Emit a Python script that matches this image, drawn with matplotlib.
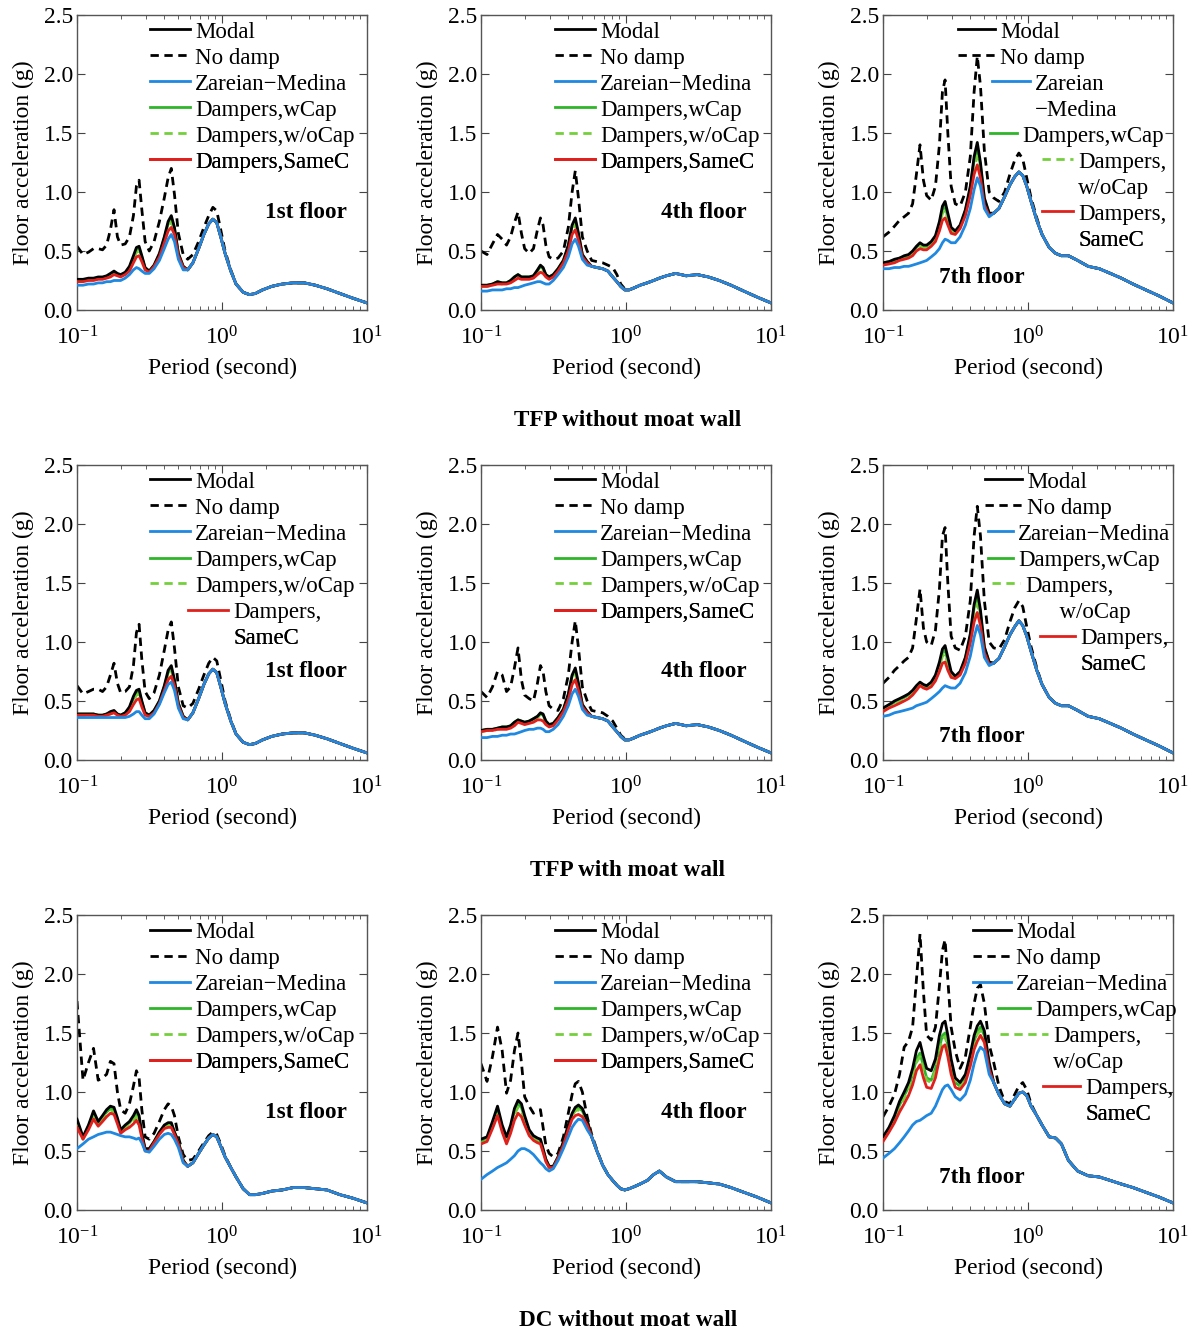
import matplotlib.pyplot as plt
from matplotlib.lines import Line2D

plt.rcParams['font.family'] = ['Liberation Serif', 'DejaVu Serif']
plt.rcParams['mathtext.fontset'] = 'stix'

# Period grids (second)
period_lo = [0.100, 0.110, 0.120, 0.130, 0.140, 0.150, 0.160, 0.170, 0.180, 0.190,
             0.200, 0.215, 0.230, 0.245, 0.257, 0.268, 0.280, 0.295, 0.315, 0.340,
             0.370, 0.400, 0.425, 0.447, 0.470, 0.500, 0.540]
period_mid = [0.580, 0.630, 0.690, 0.750, 0.810, 0.865, 0.920, 0.980, 1.050, 1.150]
period_tail = [1.25, 1.40, 1.55, 1.70, 1.90, 2.20, 2.60, 3.10, 3.70, 4.40, 5.30, 6.50, 8.00, 10.0]

# ---- TFP without moat wall, 1st floor
tfp_f1_modal = [0.26, 0.26, 0.27, 0.27, 0.28, 0.28, 0.29, 0.31, 0.33, 0.31, 0.30, 0.32, 0.37, 0.46, 0.53, 0.54, 0.46, 0.36, 0.33, 0.38, 0.48, 0.62, 0.75, 0.80, 0.70, 0.48, 0.37]
tfp_f1_nodamp = [0.54, 0.47, 0.49, 0.52, 0.52, 0.51, 0.55, 0.68, 0.85, 0.62, 0.55, 0.56, 0.62, 0.80, 1.05, 1.10, 0.85, 0.58, 0.50, 0.58, 0.75, 0.95, 1.12, 1.20, 0.98, 0.65, 0.47]
tfp_f1_zm = [0.21, 0.21, 0.22, 0.22, 0.23, 0.23, 0.24, 0.24, 0.25, 0.25, 0.25, 0.27, 0.30, 0.34, 0.36, 0.35, 0.33, 0.31, 0.31, 0.35, 0.42, 0.52, 0.60, 0.64, 0.58, 0.43, 0.34]
tfp_f1_wcap = [0.25, 0.25, 0.26, 0.26, 0.27, 0.27, 0.28, 0.30, 0.32, 0.30, 0.29, 0.31, 0.36, 0.44, 0.51, 0.52, 0.45, 0.35, 0.33, 0.38, 0.47, 0.61, 0.73, 0.78, 0.69, 0.48, 0.37]
tfp_f1_wocap = [0.25, 0.25, 0.26, 0.26, 0.27, 0.27, 0.28, 0.29, 0.31, 0.30, 0.29, 0.31, 0.35, 0.43, 0.49, 0.50, 0.44, 0.35, 0.33, 0.37, 0.46, 0.59, 0.71, 0.75, 0.67, 0.47, 0.36]
tfp_f1_samec = [0.24, 0.24, 0.25, 0.25, 0.26, 0.26, 0.27, 0.28, 0.30, 0.29, 0.28, 0.30, 0.33, 0.40, 0.45, 0.46, 0.41, 0.34, 0.32, 0.37, 0.45, 0.57, 0.67, 0.70, 0.64, 0.46, 0.36]
tfp_f1_mid = [0.34, 0.40, 0.52, 0.64, 0.73, 0.77, 0.74, 0.62, 0.48, 0.33]
tfp_f1_nodamp_mid = [0.43, 0.47, 0.58, 0.70, 0.80, 0.87, 0.84, 0.68, 0.50, 0.34]
tfp_f1_tail = [0.22, 0.15, 0.13, 0.14, 0.17, 0.20, 0.22, 0.23, 0.23, 0.21, 0.18, 0.14, 0.10, 0.06]

# ---- TFP without moat wall, 4th floor
tfp_f4_modal = [0.21, 0.21, 0.22, 0.24, 0.23, 0.23, 0.25, 0.28, 0.30, 0.28, 0.28, 0.28, 0.29, 0.34, 0.38, 0.36, 0.30, 0.28, 0.30, 0.35, 0.42, 0.55, 0.72, 0.78, 0.65, 0.47, 0.41]
tfp_f4_nodamp = [0.50, 0.47, 0.56, 0.64, 0.60, 0.55, 0.62, 0.74, 0.83, 0.65, 0.52, 0.48, 0.52, 0.68, 0.78, 0.72, 0.55, 0.45, 0.43, 0.44, 0.50, 0.70, 1.00, 1.18, 0.95, 0.62, 0.50]
tfp_f4_zm = [0.16, 0.16, 0.17, 0.17, 0.17, 0.18, 0.18, 0.19, 0.19, 0.20, 0.21, 0.22, 0.23, 0.24, 0.24, 0.23, 0.22, 0.22, 0.25, 0.30, 0.36, 0.45, 0.56, 0.60, 0.54, 0.43, 0.38]
tfp_f4_wcap = [0.21, 0.21, 0.22, 0.24, 0.23, 0.23, 0.25, 0.28, 0.30, 0.28, 0.28, 0.28, 0.29, 0.33, 0.37, 0.35, 0.30, 0.28, 0.30, 0.35, 0.42, 0.54, 0.71, 0.76, 0.64, 0.47, 0.41]
tfp_f4_wocap = [0.20, 0.20, 0.21, 0.23, 0.22, 0.22, 0.24, 0.27, 0.29, 0.27, 0.27, 0.27, 0.28, 0.32, 0.35, 0.34, 0.29, 0.27, 0.29, 0.34, 0.41, 0.52, 0.68, 0.73, 0.62, 0.46, 0.40]
tfp_f4_samec = [0.20, 0.20, 0.21, 0.22, 0.22, 0.22, 0.23, 0.25, 0.27, 0.26, 0.26, 0.26, 0.27, 0.30, 0.32, 0.31, 0.28, 0.26, 0.28, 0.33, 0.40, 0.50, 0.64, 0.68, 0.59, 0.45, 0.40]
tfp_f4_mid = [0.37, 0.36, 0.35, 0.33, 0.28, 0.24, 0.20, 0.17, 0.17, 0.19]
tfp_f4_nodamp_mid = [0.42, 0.41, 0.40, 0.38, 0.36, 0.30, 0.22, 0.18, 0.17, 0.19]
tfp_f4_tail = [0.21, 0.23, 0.25, 0.27, 0.29, 0.31, 0.29, 0.30, 0.28, 0.25, 0.21, 0.16, 0.11, 0.06]

# ---- TFP without moat wall, 7th floor
tfp_f7_modal = [0.40, 0.41, 0.43, 0.44, 0.46, 0.47, 0.50, 0.54, 0.57, 0.55, 0.55, 0.58, 0.63, 0.75, 0.88, 0.92, 0.82, 0.70, 0.67, 0.72, 0.85, 1.05, 1.30, 1.42, 1.25, 0.95, 0.82]
tfp_f7_nodamp = [0.62, 0.66, 0.71, 0.76, 0.79, 0.82, 0.90, 1.15, 1.40, 1.10, 0.97, 0.93, 1.05, 1.40, 1.85, 1.95, 1.50, 1.05, 0.90, 0.88, 1.00, 1.30, 1.85, 2.15, 1.90, 1.35, 1.00]
tfp_f7_zm = [0.35, 0.35, 0.36, 0.36, 0.37, 0.37, 0.38, 0.39, 0.40, 0.41, 0.42, 0.45, 0.48, 0.52, 0.57, 0.60, 0.59, 0.57, 0.57, 0.62, 0.72, 0.86, 1.02, 1.12, 1.05, 0.86, 0.79]
tfp_f7_wcap = [0.40, 0.41, 0.42, 0.44, 0.45, 0.46, 0.49, 0.53, 0.56, 0.54, 0.54, 0.57, 0.62, 0.73, 0.85, 0.88, 0.79, 0.68, 0.66, 0.71, 0.84, 1.03, 1.27, 1.38, 1.22, 0.94, 0.82]
tfp_f7_wocap = [0.39, 0.40, 0.41, 0.43, 0.44, 0.45, 0.48, 0.52, 0.54, 0.53, 0.53, 0.56, 0.61, 0.71, 0.82, 0.85, 0.77, 0.67, 0.65, 0.70, 0.82, 1.00, 1.21, 1.30, 1.18, 0.92, 0.81]
tfp_f7_samec = [0.38, 0.39, 0.40, 0.42, 0.43, 0.44, 0.46, 0.50, 0.52, 0.51, 0.51, 0.54, 0.58, 0.67, 0.76, 0.78, 0.72, 0.65, 0.64, 0.69, 0.80, 0.97, 1.15, 1.23, 1.12, 0.89, 0.80]
tfp_f7_mid = [0.82, 0.86, 0.96, 1.06, 1.13, 1.17, 1.14, 1.05, 0.92, 0.76]
tfp_f7_nodamp_mid = [0.95, 0.92, 1.00, 1.15, 1.27, 1.33, 1.28, 1.12, 0.95, 0.78]
tfp_f7_tail = [0.64, 0.53, 0.48, 0.46, 0.46, 0.42, 0.37, 0.35, 0.31, 0.27, 0.22, 0.17, 0.12, 0.06]

# ---- TFP with moat wall, 1st floor
moat_f1_modal = [0.39, 0.39, 0.39, 0.39, 0.38, 0.38, 0.39, 0.41, 0.42, 0.39, 0.38, 0.40, 0.45, 0.54, 0.59, 0.60, 0.50, 0.40, 0.38, 0.42, 0.50, 0.63, 0.76, 0.80, 0.68, 0.48, 0.37]
moat_f1_nodamp = [0.63, 0.56, 0.58, 0.60, 0.60, 0.58, 0.62, 0.72, 0.82, 0.65, 0.57, 0.58, 0.62, 0.80, 1.08, 1.15, 0.85, 0.58, 0.52, 0.57, 0.72, 0.93, 1.10, 1.17, 0.95, 0.62, 0.46]
moat_f1_zm = [0.36, 0.36, 0.36, 0.36, 0.36, 0.36, 0.36, 0.36, 0.36, 0.36, 0.36, 0.36, 0.37, 0.39, 0.41, 0.41, 0.38, 0.35, 0.35, 0.39, 0.47, 0.57, 0.64, 0.66, 0.59, 0.44, 0.35]
moat_f1_wcap = [0.39, 0.39, 0.39, 0.39, 0.38, 0.38, 0.39, 0.40, 0.41, 0.39, 0.38, 0.40, 0.44, 0.52, 0.57, 0.58, 0.49, 0.40, 0.38, 0.42, 0.50, 0.62, 0.74, 0.78, 0.67, 0.48, 0.37]
moat_f1_wocap = [0.38, 0.38, 0.38, 0.38, 0.38, 0.38, 0.38, 0.39, 0.41, 0.38, 0.38, 0.39, 0.43, 0.50, 0.55, 0.56, 0.48, 0.39, 0.37, 0.41, 0.49, 0.61, 0.72, 0.76, 0.66, 0.47, 0.37]
moat_f1_samec = [0.38, 0.38, 0.38, 0.38, 0.37, 0.37, 0.38, 0.39, 0.40, 0.38, 0.37, 0.38, 0.41, 0.47, 0.51, 0.52, 0.45, 0.38, 0.37, 0.40, 0.48, 0.59, 0.68, 0.71, 0.63, 0.46, 0.36]
moat_f1_mid = [0.34, 0.40, 0.52, 0.64, 0.73, 0.77, 0.74, 0.62, 0.48, 0.33]
moat_f1_nodamp_mid = [0.44, 0.48, 0.60, 0.72, 0.82, 0.87, 0.84, 0.68, 0.50, 0.34]
moat_f1_tail = [0.22, 0.15, 0.13, 0.14, 0.17, 0.20, 0.22, 0.23, 0.23, 0.21, 0.18, 0.14, 0.10, 0.06]

# ---- TFP with moat wall, 4th floor
moat_f4_modal = [0.25, 0.26, 0.26, 0.27, 0.28, 0.28, 0.29, 0.32, 0.34, 0.33, 0.32, 0.33, 0.35, 0.37, 0.40, 0.39, 0.33, 0.30, 0.31, 0.36, 0.43, 0.56, 0.72, 0.78, 0.65, 0.47, 0.41]
moat_f4_nodamp = [0.58, 0.53, 0.62, 0.75, 0.72, 0.58, 0.62, 0.78, 0.95, 0.68, 0.55, 0.52, 0.50, 0.65, 0.80, 0.75, 0.58, 0.46, 0.43, 0.42, 0.52, 0.72, 1.00, 1.18, 0.95, 0.62, 0.50]
moat_f4_zm = [0.19, 0.19, 0.20, 0.20, 0.21, 0.21, 0.22, 0.22, 0.23, 0.24, 0.25, 0.26, 0.26, 0.27, 0.27, 0.26, 0.24, 0.24, 0.26, 0.30, 0.37, 0.46, 0.56, 0.60, 0.54, 0.43, 0.38]
moat_f4_wcap = [0.25, 0.26, 0.26, 0.27, 0.28, 0.28, 0.29, 0.32, 0.34, 0.33, 0.32, 0.33, 0.35, 0.37, 0.39, 0.38, 0.33, 0.30, 0.31, 0.36, 0.43, 0.55, 0.71, 0.76, 0.64, 0.47, 0.41]
moat_f4_wocap = [0.24, 0.25, 0.25, 0.26, 0.27, 0.27, 0.28, 0.31, 0.33, 0.32, 0.31, 0.32, 0.34, 0.36, 0.38, 0.37, 0.32, 0.29, 0.30, 0.35, 0.42, 0.53, 0.68, 0.73, 0.62, 0.46, 0.40]
moat_f4_samec = [0.24, 0.25, 0.25, 0.26, 0.26, 0.26, 0.27, 0.29, 0.32, 0.31, 0.30, 0.31, 0.32, 0.34, 0.34, 0.33, 0.30, 0.28, 0.29, 0.34, 0.41, 0.51, 0.64, 0.68, 0.59, 0.45, 0.40]
moat_f4_mid = [0.37, 0.36, 0.35, 0.33, 0.28, 0.24, 0.20, 0.17, 0.17, 0.19]
moat_f4_nodamp_mid = [0.42, 0.41, 0.40, 0.37, 0.33, 0.27, 0.21, 0.18, 0.17, 0.19]
moat_f4_tail = [0.21, 0.23, 0.25, 0.27, 0.29, 0.31, 0.29, 0.30, 0.28, 0.25, 0.21, 0.16, 0.11, 0.06]

# ---- TFP with moat wall, 7th floor
moat_f7_modal = [0.44, 0.47, 0.50, 0.52, 0.54, 0.56, 0.59, 0.63, 0.66, 0.64, 0.63, 0.66, 0.72, 0.83, 0.94, 0.97, 0.87, 0.75, 0.71, 0.75, 0.87, 1.07, 1.32, 1.44, 1.27, 0.96, 0.83]
moat_f7_nodamp = [0.65, 0.70, 0.76, 0.80, 0.84, 0.87, 0.95, 1.20, 1.45, 1.12, 1.00, 0.97, 1.10, 1.45, 1.90, 1.97, 1.50, 1.05, 0.95, 0.93, 1.05, 1.35, 1.90, 2.15, 1.90, 1.35, 1.00]
moat_f7_zm = [0.37, 0.38, 0.40, 0.41, 0.42, 0.43, 0.44, 0.46, 0.47, 0.48, 0.49, 0.52, 0.55, 0.58, 0.61, 0.63, 0.62, 0.61, 0.61, 0.65, 0.74, 0.88, 1.04, 1.14, 1.06, 0.87, 0.80]
moat_f7_wcap = [0.44, 0.46, 0.49, 0.51, 0.53, 0.55, 0.58, 0.62, 0.65, 0.63, 0.62, 0.65, 0.71, 0.81, 0.91, 0.93, 0.84, 0.73, 0.70, 0.74, 0.86, 1.05, 1.29, 1.40, 1.24, 0.95, 0.83]
moat_f7_wocap = [0.43, 0.45, 0.48, 0.50, 0.52, 0.54, 0.57, 0.61, 0.64, 0.62, 0.61, 0.64, 0.70, 0.79, 0.88, 0.90, 0.81, 0.72, 0.70, 0.73, 0.84, 1.02, 1.24, 1.32, 1.20, 0.94, 0.82]
moat_f7_samec = [0.41, 0.44, 0.46, 0.48, 0.50, 0.52, 0.55, 0.59, 0.63, 0.61, 0.60, 0.62, 0.67, 0.75, 0.82, 0.83, 0.76, 0.70, 0.69, 0.72, 0.82, 0.99, 1.17, 1.25, 1.14, 0.91, 0.81]
moat_f7_mid = [0.82, 0.86, 0.96, 1.06, 1.13, 1.18, 1.14, 1.05, 0.92, 0.76]
moat_f7_nodamp_mid = [0.95, 0.94, 1.02, 1.17, 1.29, 1.35, 1.30, 1.13, 0.96, 0.78]
moat_f7_tail = [0.64, 0.53, 0.48, 0.46, 0.46, 0.42, 0.37, 0.35, 0.31, 0.27, 0.22, 0.17, 0.12, 0.06]

# ---- DC without moat wall, 1st floor
dc_f1_modal = [0.77, 0.62, 0.72, 0.84, 0.75, 0.80, 0.85, 0.88, 0.87, 0.78, 0.68, 0.72, 0.75, 0.80, 0.85, 0.80, 0.65, 0.52, 0.52, 0.58, 0.66, 0.72, 0.74, 0.74, 0.66, 0.58, 0.42]
dc_f1_nodamp = [1.77, 1.10, 1.25, 1.37, 1.10, 1.12, 1.15, 1.26, 1.24, 1.00, 0.85, 0.82, 0.90, 1.05, 1.18, 1.12, 0.85, 0.62, 0.60, 0.65, 0.75, 0.85, 0.90, 0.88, 0.80, 0.62, 0.47]
dc_f1_zm = [0.52, 0.56, 0.60, 0.62, 0.64, 0.65, 0.66, 0.66, 0.65, 0.64, 0.63, 0.62, 0.62, 0.61, 0.60, 0.61, 0.57, 0.50, 0.49, 0.54, 0.60, 0.64, 0.65, 0.64, 0.60, 0.53, 0.40]
dc_f1_wcap = [0.75, 0.61, 0.71, 0.82, 0.74, 0.79, 0.83, 0.86, 0.85, 0.76, 0.67, 0.71, 0.74, 0.78, 0.82, 0.78, 0.64, 0.51, 0.51, 0.58, 0.66, 0.71, 0.73, 0.73, 0.66, 0.58, 0.42]
dc_f1_wocap = [0.73, 0.60, 0.70, 0.80, 0.73, 0.77, 0.81, 0.84, 0.83, 0.75, 0.66, 0.70, 0.72, 0.76, 0.79, 0.76, 0.63, 0.51, 0.51, 0.57, 0.65, 0.70, 0.72, 0.72, 0.65, 0.57, 0.42]
dc_f1_samec = [0.70, 0.60, 0.68, 0.77, 0.71, 0.75, 0.79, 0.82, 0.81, 0.73, 0.65, 0.68, 0.70, 0.73, 0.76, 0.72, 0.61, 0.50, 0.50, 0.57, 0.64, 0.69, 0.70, 0.70, 0.64, 0.56, 0.41]
dc_f1_mid = [0.37, 0.40, 0.48, 0.55, 0.61, 0.64, 0.62, 0.54, 0.45, 0.36]
dc_f1_nodamp_mid = [0.42, 0.43, 0.50, 0.57, 0.63, 0.66, 0.64, 0.56, 0.46, 0.36]
dc_f1_tail = [0.28, 0.18, 0.13, 0.13, 0.14, 0.16, 0.17, 0.19, 0.19, 0.18, 0.17, 0.13, 0.10, 0.06]

# ---- DC without moat wall, 4th floor
dc_f4_modal = [0.60, 0.62, 0.75, 0.88, 0.72, 0.62, 0.72, 0.86, 0.93, 0.90, 0.80, 0.68, 0.63, 0.61, 0.60, 0.52, 0.43, 0.37, 0.37, 0.45, 0.58, 0.72, 0.82, 0.87, 0.89, 0.86, 0.76]
dc_f4_nodamp = [1.24, 1.09, 1.30, 1.55, 1.35, 0.99, 1.10, 1.35, 1.50, 1.25, 0.96, 0.88, 0.82, 0.84, 0.85, 0.70, 0.55, 0.48, 0.45, 0.48, 0.62, 0.82, 0.98, 1.07, 1.09, 1.00, 0.79]
dc_f4_zm = [0.26, 0.30, 0.33, 0.36, 0.38, 0.40, 0.43, 0.46, 0.50, 0.52, 0.52, 0.50, 0.47, 0.43, 0.40, 0.38, 0.35, 0.33, 0.35, 0.42, 0.52, 0.62, 0.70, 0.74, 0.77, 0.76, 0.68]
dc_f4_wcap = [0.58, 0.60, 0.73, 0.86, 0.70, 0.60, 0.70, 0.84, 0.90, 0.87, 0.78, 0.67, 0.62, 0.60, 0.59, 0.51, 0.43, 0.37, 0.37, 0.45, 0.57, 0.71, 0.81, 0.86, 0.87, 0.84, 0.75]
dc_f4_wocap = [0.56, 0.59, 0.71, 0.84, 0.68, 0.59, 0.68, 0.81, 0.87, 0.84, 0.76, 0.66, 0.61, 0.59, 0.58, 0.50, 0.42, 0.36, 0.36, 0.44, 0.56, 0.70, 0.80, 0.84, 0.85, 0.82, 0.74]
dc_f4_samec = [0.56, 0.58, 0.69, 0.80, 0.66, 0.56, 0.65, 0.76, 0.82, 0.79, 0.72, 0.63, 0.59, 0.57, 0.56, 0.49, 0.41, 0.36, 0.36, 0.44, 0.55, 0.68, 0.77, 0.80, 0.81, 0.79, 0.72]
dc_f4_mid = [0.62, 0.50, 0.38, 0.30, 0.25, 0.21, 0.18, 0.17, 0.18, 0.20]
dc_f4_nodamp_mid = [0.64, 0.51, 0.38, 0.30, 0.25, 0.21, 0.18, 0.17, 0.18, 0.20]
dc_f4_tail = [0.22, 0.25, 0.30, 0.33, 0.28, 0.24, 0.24, 0.24, 0.23, 0.22, 0.19, 0.15, 0.11, 0.06]

# ---- DC without moat wall, 7th floor
dc_f7_modal = [0.62, 0.70, 0.80, 0.92, 1.00, 1.08, 1.20, 1.35, 1.42, 1.30, 1.20, 1.18, 1.28, 1.48, 1.58, 1.60, 1.48, 1.28, 1.12, 1.08, 1.15, 1.32, 1.48, 1.56, 1.60, 1.52, 1.25]
dc_f7_nodamp = [0.79, 0.88, 0.98, 1.15, 1.38, 1.43, 1.55, 1.95, 2.34, 1.85, 1.48, 1.44, 1.55, 1.90, 2.20, 2.29, 1.95, 1.55, 1.35, 1.20, 1.30, 1.55, 1.75, 1.88, 1.91, 1.75, 1.40]
dc_f7_zm = [0.44, 0.48, 0.52, 0.57, 0.62, 0.67, 0.72, 0.75, 0.76, 0.78, 0.80, 0.82, 0.88, 0.96, 1.02, 1.05, 1.06, 1.02, 0.96, 0.93, 0.98, 1.10, 1.24, 1.33, 1.38, 1.35, 1.15]
dc_f7_wcap = [0.61, 0.69, 0.78, 0.89, 0.97, 1.04, 1.15, 1.28, 1.33, 1.22, 1.12, 1.10, 1.20, 1.38, 1.48, 1.50, 1.40, 1.22, 1.08, 1.05, 1.12, 1.28, 1.43, 1.51, 1.55, 1.48, 1.22]
dc_f7_wocap = [0.60, 0.68, 0.77, 0.87, 0.95, 1.02, 1.12, 1.25, 1.30, 1.19, 1.10, 1.08, 1.18, 1.35, 1.45, 1.47, 1.38, 1.20, 1.07, 1.04, 1.11, 1.26, 1.41, 1.49, 1.52, 1.46, 1.21]
dc_f7_samec = [0.58, 0.66, 0.74, 0.83, 0.90, 0.97, 1.06, 1.18, 1.23, 1.12, 1.04, 1.03, 1.12, 1.28, 1.38, 1.40, 1.30, 1.15, 1.04, 1.02, 1.08, 1.22, 1.36, 1.43, 1.48, 1.42, 1.19]
dc_f7_mid = [1.08, 0.98, 0.90, 0.88, 0.94, 0.99, 1.00, 0.97, 0.88, 0.80]
dc_f7_nodamp_mid = [1.25, 1.05, 0.92, 0.90, 0.98, 1.05, 1.08, 1.02, 0.90, 0.80]
dc_f7_tail = [0.72, 0.62, 0.61, 0.56, 0.42, 0.33, 0.29, 0.28, 0.25, 0.22, 0.19, 0.15, 0.11, 0.06]

group_titles = ['TFP without moat wall', 'TFP with moat wall', 'DC without moat wall']

# line styles, in legend order
styles = [
    dict(color='black', ls='-', lw=2.0, zorder=4),
    dict(color='black', ls=(0, (3, 2)), lw=2.0, zorder=2),
    dict(color='#1f88e0', ls='-', lw=2.0, zorder=6),
    dict(color='#2fb52a', ls='-', lw=2.0, zorder=3),
    dict(color='#74cf3c', ls=(0, (3, 2)), lw=2.0, zorder=3),
    dict(color='#e0201c', ls='-', lw=2.0, zorder=5),
]


def std_rows(x):
    # one legend row per series: (series index, text, handle left [px from axes left], handle length [px])
    names = ['Modal', 'No damp', 'Zareian\u2212Medina', 'Dampers,wCap', 'Dampers,w/oCap', 'Dampers,SameC']
    return [(k, t, x, 40) for k, t in enumerate(names)]


# legend rows; None marks a wrapped continuation line
leg_r1c3 = [(0, 'Modal', 75, 37), (1, 'No damp', 75, 37),
            (2, 'Zareian', 109, 38), (None, '\u2212Medina', 109, 38),
            (3, 'Dampers,wCap', 107, 27),
            (4, 'Dampers,', 159, 31), (None, 'w/oCap', 159, 31),
            (5, 'Dampers,', 159, 31), (None, 'SameC', 159, 31)]
leg_r2c1 = std_rows(73)[:5] + [(5, 'Dampers,', 111, 40), (None, 'SameC', 111, 40)]
leg_r2c3 = [(0, 'Modal', 102, 37), (1, 'No damp', 102, 37),
            (2, 'Zareian\u2212Medina', 105, 25), (3, 'Dampers,wCap', 105, 25),
            (4, 'Dampers,', 109, 28), (None, '      w/oCap', 109, 28),
            (5, 'Dampers,', 157, 35), (None, 'SameC', 157, 35)]
leg_r3c3 = [(0, 'Modal', 90, 38), (1, 'No damp', 90, 38), (2, 'Zareian\u2212Medina', 90, 38),
            (3, 'Dampers,wCap', 115, 32),
            (4, 'Dampers,', 117, 48), (None, 'w/oCap', 117, 48),
            (5, 'Dampers,', 160, 37), (None, 'SameC', 160, 37)]

panels = [
    (0, 0, [tfp_f1_modal, tfp_f1_nodamp, tfp_f1_zm, tfp_f1_wcap, tfp_f1_wocap, tfp_f1_samec],
     tfp_f1_mid, tfp_f1_nodamp_mid, tfp_f1_tail, '1st floor', (0.79, 0.33), std_rows(73)),
    (0, 1, [tfp_f4_modal, tfp_f4_nodamp, tfp_f4_zm, tfp_f4_wcap, tfp_f4_wocap, tfp_f4_samec],
     tfp_f4_mid, tfp_f4_nodamp_mid, tfp_f4_tail, '4th floor', (0.77, 0.33), std_rows(74)),
    (0, 2, [tfp_f7_modal, tfp_f7_nodamp, tfp_f7_zm, tfp_f7_wcap, tfp_f7_wocap, tfp_f7_samec],
     tfp_f7_mid, tfp_f7_nodamp_mid, tfp_f7_tail, '7th floor', (0.34, 0.11), leg_r1c3),
    (1, 0, [moat_f1_modal, moat_f1_nodamp, moat_f1_zm, moat_f1_wcap, moat_f1_wocap, moat_f1_samec],
     moat_f1_mid, moat_f1_nodamp_mid, moat_f1_tail, '1st floor', (0.79, 0.30), leg_r2c1),
    (1, 1, [moat_f4_modal, moat_f4_nodamp, moat_f4_zm, moat_f4_wcap, moat_f4_wocap, moat_f4_samec],
     moat_f4_mid, moat_f4_nodamp_mid, moat_f4_tail, '4th floor', (0.77, 0.30), std_rows(74)),
    (1, 2, [moat_f7_modal, moat_f7_nodamp, moat_f7_zm, moat_f7_wcap, moat_f7_wocap, moat_f7_samec],
     moat_f7_mid, moat_f7_nodamp_mid, moat_f7_tail, '7th floor', (0.34, 0.08), leg_r2c3),
    (2, 0, [dc_f1_modal, dc_f1_nodamp, dc_f1_zm, dc_f1_wcap, dc_f1_wocap, dc_f1_samec],
     dc_f1_mid, dc_f1_nodamp_mid, dc_f1_tail, '1st floor', (0.79, 0.33), std_rows(73)),
    (2, 1, [dc_f4_modal, dc_f4_nodamp, dc_f4_zm, dc_f4_wcap, dc_f4_wocap, dc_f4_samec],
     dc_f4_mid, dc_f4_nodamp_mid, dc_f4_tail, '4th floor', (0.77, 0.33), std_rows(74)),
    (2, 2, [dc_f7_modal, dc_f7_nodamp, dc_f7_zm, dc_f7_wcap, dc_f7_wocap, dc_f7_samec],
     dc_f7_mid, dc_f7_nodamp_mid, dc_f7_tail, '7th floor', (0.34, 0.11), leg_r3c3),
]

W, H = 1194, 1333
fig = plt.figure(figsize=(W / 100, H / 100), dpi=100)

col_left = [77, 481, 883]
row_top = [15, 465, 915]
ax_w, ax_h = 290, 295
leg_fs = 16.5
leg_px = leg_fs * 100 / 72
row_pitch, first_row = 26.0, 17.0

periods_all = period_lo + period_mid + period_tail

for row, col, lo, mid, nd_mid, tail, floor, fpos, leg_rows in panels:
    ax = fig.add_axes([col_left[col] / W, 1 - (row_top[row] + ax_h) / H, ax_w / W, ax_h / H])
    lines = []
    for k, (vals, st) in enumerate(zip(lo, styles)):
        mid_vals = nd_mid if k == 1 else mid
        h, = ax.plot(periods_all, vals + mid_vals + tail, solid_joinstyle='round', **st)
        lines.append(h)
    ax.set_xscale('log')
    ax.set_xlim(0.1, 10)
    ax.set_ylim(0, 2.5)
    ax.set_yticks([0, 0.5, 1.0, 1.5, 2.0, 2.5])
    ax.set_yticklabels(['0.0', '0.5', '1.0', '1.5', '2.0', '2.5'])
    ax.tick_params(which='both', direction='in', top=True, right=True, labelsize=17, color='#444444')
    ax.tick_params(axis='x', pad=12)
    ax.tick_params(axis='y', pad=3)
    ax.tick_params(which='major', length=6)
    ax.tick_params(which='minor', length=3)
    for sp in ax.spines.values():
        sp.set_color('#555555')
        sp.set_linewidth(1.0)
    ax.set_xlabel('Period (second)', fontsize=17, labelpad=6)
    ax.set_ylabel('Floor acceleration (g)', fontsize=17, labelpad=7)
    ax.text(fpos[0], fpos[1], floor, transform=ax.transAxes, ha='center', va='center',
            fontsize=16.7, fontweight='bold')

    # legend, one row at a time so wrapped and shifted entries line up
    for i, (k, text, hx, hlen) in enumerate(leg_rows):
        handle = lines[k] if k is not None else Line2D([], [], color='none')
        y = 1 - (first_row + i * row_pitch) / ax_h
        leg = ax.legend([handle], [text], loc='center left', bbox_to_anchor=(hx / ax_w, y),
                        frameon=False, fontsize=leg_fs, handlelength=hlen / leg_px,
                        handletextpad=0.22, borderpad=0, borderaxespad=0)
        ax.add_artist(leg)

title_y = [421, 871, 1321]
for ty, title in zip(title_y, group_titles):
    fig.text(628 / W, 1 - ty / H, title, ha='center', va='center', fontsize=16.7, fontweight='bold')

fig.savefig('out.png', dpi=100, facecolor='white')
